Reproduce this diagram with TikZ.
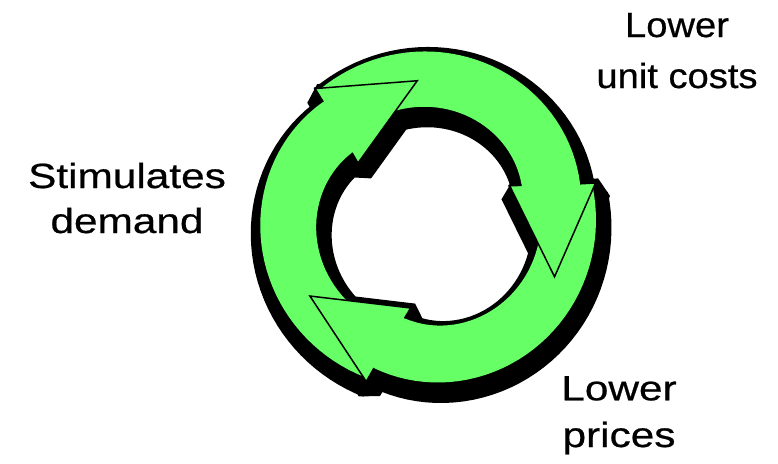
\documentclass[tikz,border=0pt]{standalone}
\usepackage{fontspec}
\setmainfont{Liberation Sans}
\newfontfamily\narrowfont{Liberation Sans}[FakeStretch=1.09,FakeBold=0.6]
\newfontfamily\widefont{Liberation Sans}[FakeStretch=1.21,FakeBold=0.6]
\definecolor{cyclegreen}{RGB}{102,255,102}

% body of one arrow: #1 = tip angle of the arrow before, #2 = own tip angle
\newcommand{\cyclebody}[2]{%
  plot[domain=0:1,samples=40] ({(#1)+35.5+((#2)-(#1)+1.8)*\x}:{169-11.7*\x*\x*\x})
  -- plot[domain=1:0,samples=40] ({(#1)+40.3+((#2)-(#1)+3.8)*\x}:{114-13.2*\x*\x*\x})
  -- cycle }
% arrow head with its tip at angle #1
\newcommand{\cyclehead}[1]{%
  ({#1+36.4}:172.6) -- (#1:139.6) -- ({#1+46.5}:89.5) -- cycle }
\newcommand{\cycleedge}[1]{%
  ({#1+37.3}:157.3) -- ({#1+36.4}:172.6) -- (#1:139.6) -- ({#1+46.5}:89.5) -- ({#1+44.1}:100.8) }

\begin{document}
\begin{tikzpicture}[x=1pt,y=1pt]
  \tikzstyle{ShadowStyle}=[fill=black,draw=black,line width=25pt,line join=bevel]
  \tikzstyle{RimStyle}=[draw=black,line width=3pt,line join=round]
  \tikzstyle{FillStyle}=[fill=cyclegreen]
  \tikzstyle{EdgeStyle}=[draw=black,line width=1.5pt]
  \tikzstyle{TextStyle}=[align=center,anchor=base,inner sep=0pt]
  \useasboundingbox (0,0) rectangle (778,-463);
  \begin{scope}[shift={(427,-220)}]
    % drop shadow
    \path[ShadowStyle,shift={(3,-8)}] \cyclebody{213}{94} \cyclebody{94}{-24} \cyclebody{-24}{-147}
      \cyclehead{94} \cyclehead{-24} \cyclehead{-147};
    % outline, then green on top
    \path[RimStyle] \cyclebody{213}{94} \cyclebody{94}{-24} \cyclebody{-24}{-147}
      \cyclehead{94} \cyclehead{-24} \cyclehead{-147};
    \path[FillStyle] \cyclebody{213}{94} \cyclebody{94}{-24} \cyclebody{-24}{-147}
      \cyclehead{94} \cyclehead{-24} \cyclehead{-147};
    \path[EdgeStyle] \cycleedge{94} \cycleedge{-24} \cycleedge{-147};
  \end{scope}
  % anchor=base sits on the last line
  \node[TextStyle,font=\narrowfont\fontsize{35}{51}\selectfont] (costs) at (677,-88) {Lower\\unit costs};
  \node[TextStyle,font=\widefont\fontsize{35}{45}\selectfont] (demand) at (127,-233) {Stimulates\\demand};
  \node[TextStyle,font=\widefont\fontsize{35}{46.7}\selectfont] (prices) at (619,-447) {Lower\\prices};
\end{tikzpicture}
\end{document}
